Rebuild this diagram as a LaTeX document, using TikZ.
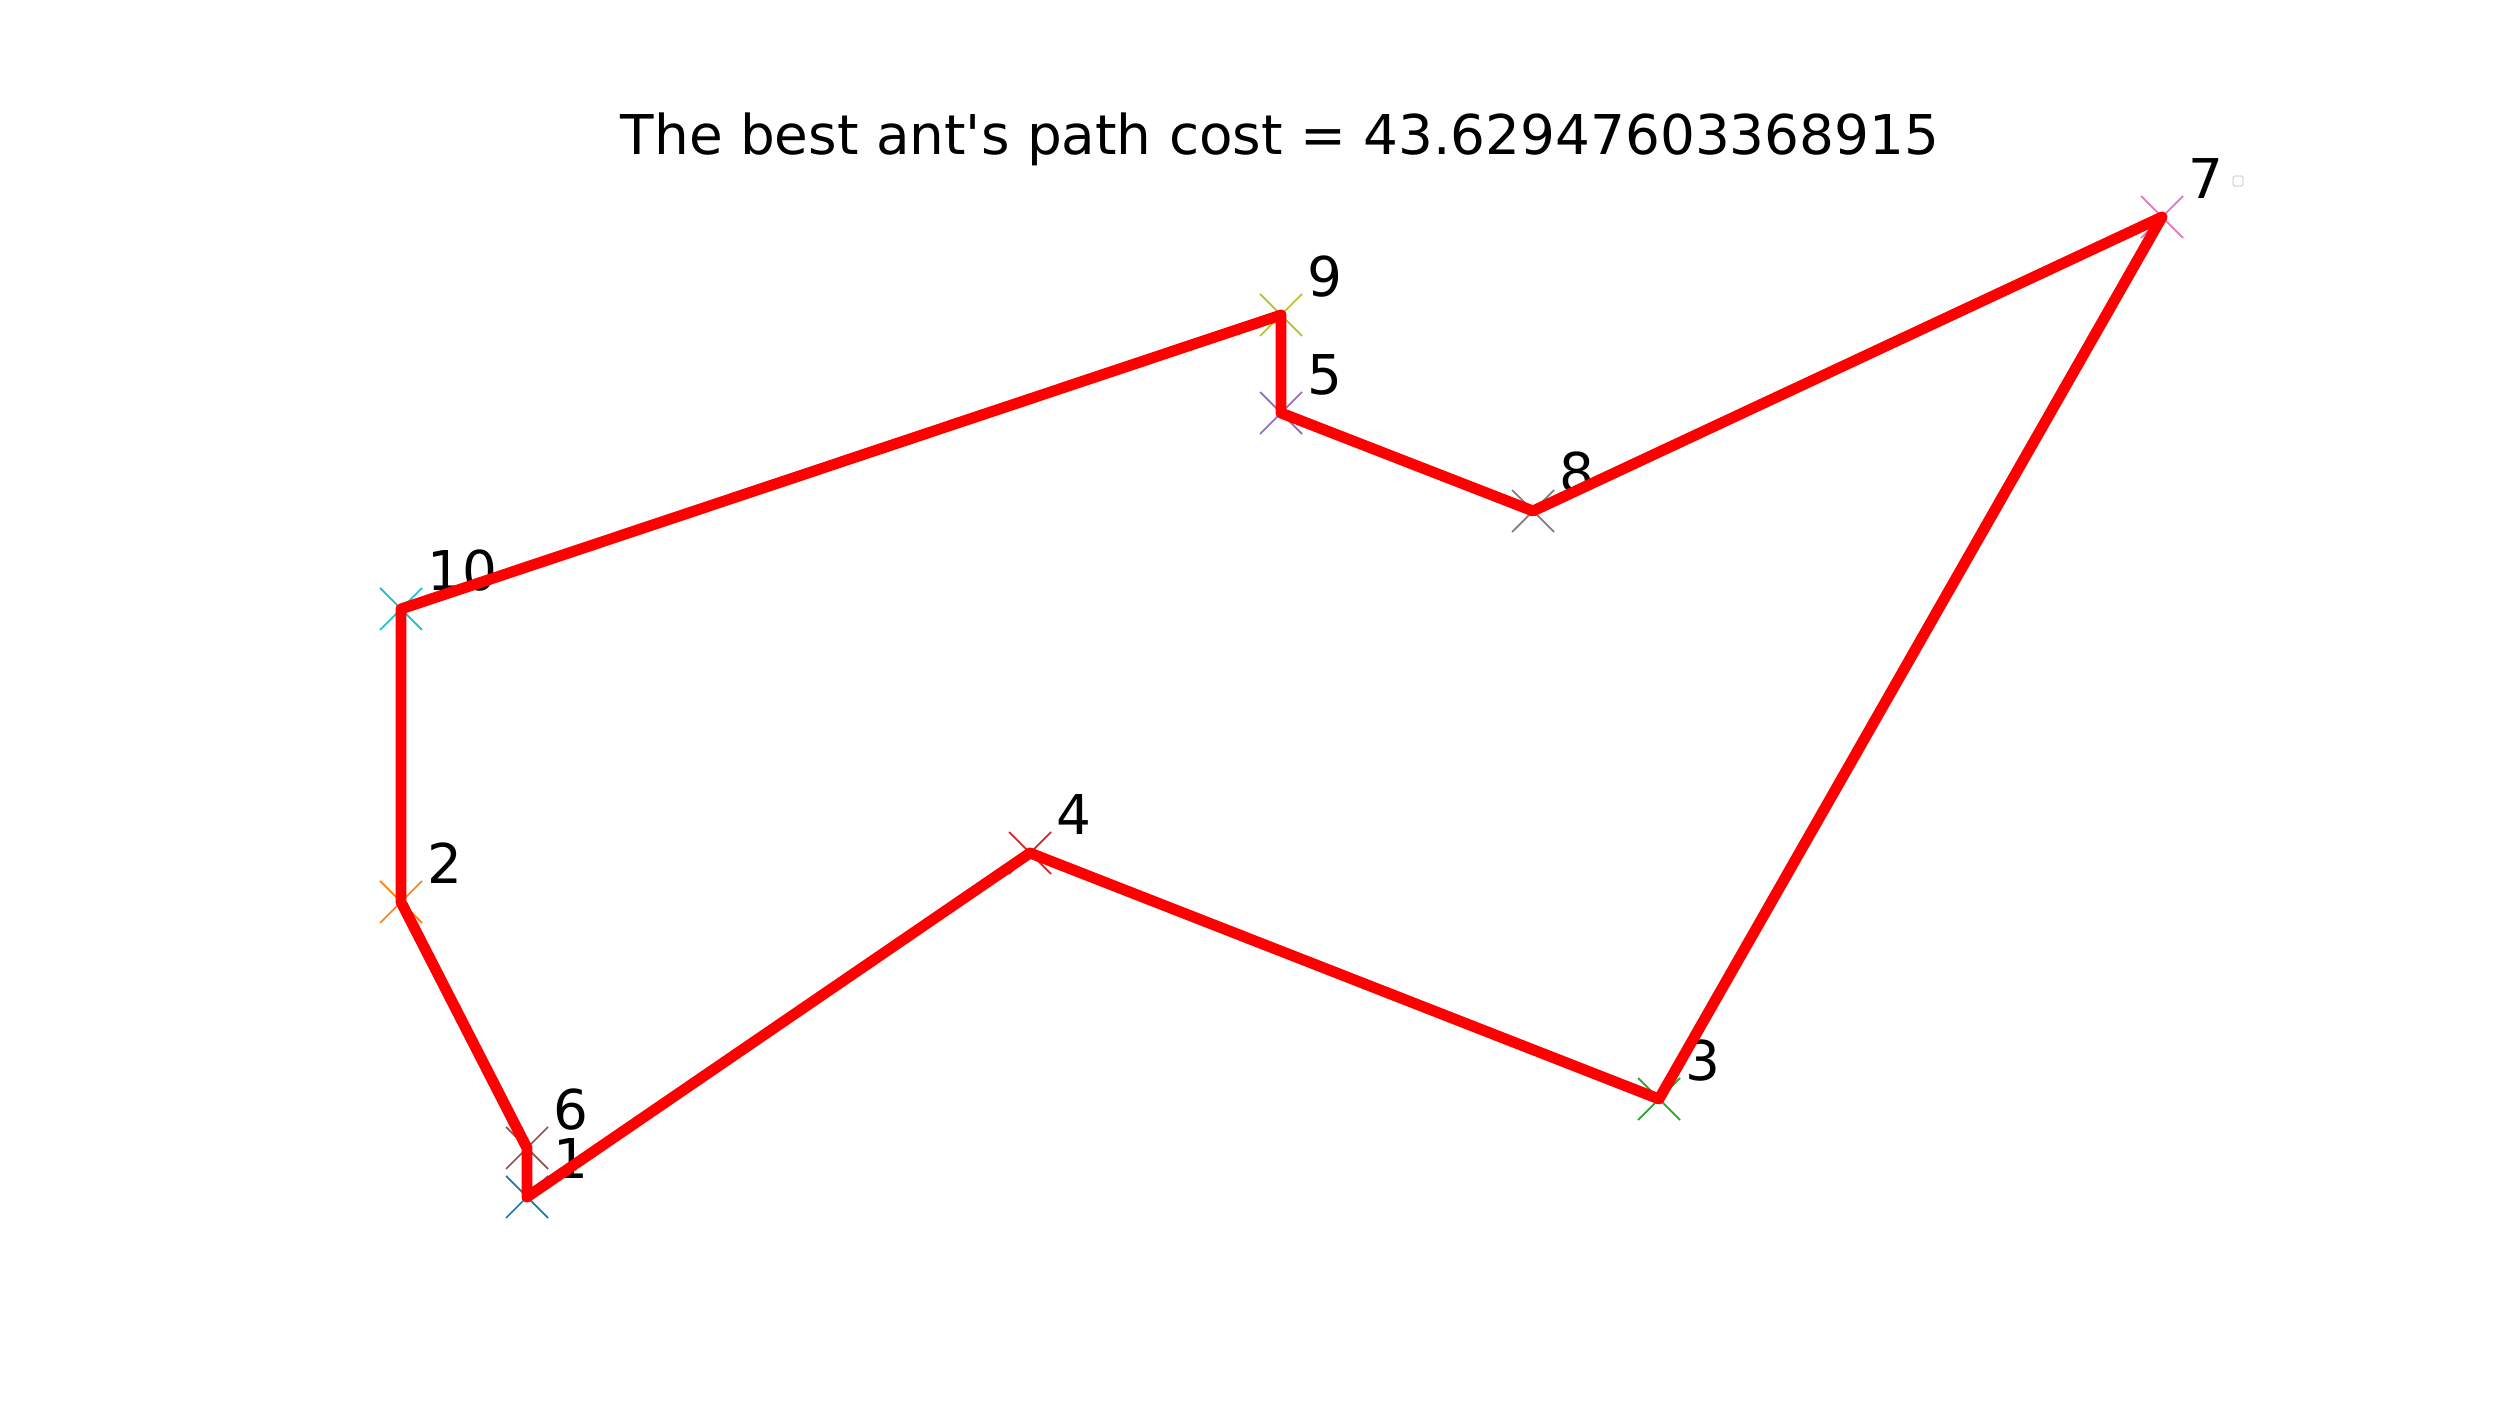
\documentclass[tikz,border=0pt]{standalone}
\usepackage{fontspec}
\setmainfont{DejaVu Sans}[Ligatures=TeXOff]
\usetikzlibrary{calc}
\definecolor{c1}{HTML}{1F77B4}
\definecolor{c2}{HTML}{FF7F0E}
\definecolor{c3}{HTML}{2CA02C}
\definecolor{c4}{HTML}{D62728}
\definecolor{c5}{HTML}{9467BD}
\definecolor{c6}{HTML}{8C564B}
\definecolor{c7}{HTML}{E377C2}
\definecolor{c8}{HTML}{7F7F7F}
\definecolor{c9}{HTML}{BCBD22}
\definecolor{c10}{HTML}{17BECF}
\definecolor{pathred}{HTML}{FF0000}
\tikzset{
  citylabel/.style={anchor=base west, inner sep=0pt, font=\fontsize{15.6}{18}\selectfont},
  tour/.style={draw=pathred, line width=3.1pt, line join=round},
  titletext/.style={anchor=base, inner sep=0pt, font=\fontsize{15.6}{18}\selectfont},
}
\newcommand{\crossmark}[2]{%
  \draw[#2, line width=0.5pt] ($(#1)+(-0.21,-0.21)$) -- ($(#1)+(0.21,0.21)$);
  \draw[#2, line width=0.5pt] ($(#1)+(-0.21,0.21)$) -- ($(#1)+(0.21,-0.21)$);
}
\begin{document}
\begin{tikzpicture}[x=1cm,y=1cm]
\useasboundingbox[fill=white] (0,0) rectangle (25,14);
\coordinate (p1) at (5.27,2.03);
\coordinate (p6) at (5.27,2.52);
\coordinate (p2) at (4.01,4.98);
\coordinate (p10) at (4.01,7.91);
\coordinate (p9) at (12.81,10.85);
\coordinate (p5) at (12.81,9.87);
\coordinate (p8) at (15.33,8.89);
\coordinate (p7) at (21.62,11.83);
\coordinate (p3) at (16.59,3.01);
\coordinate (p4) at (10.30,5.47);
\crossmark{p1}{c1}
\crossmark{p2}{c2}
\crossmark{p3}{c3}
\crossmark{p4}{c4}
\crossmark{p5}{c5}
\crossmark{p6}{c6}
\crossmark{p7}{c7}
\crossmark{p8}{c8}
\crossmark{p9}{c9}
\crossmark{p10}{c10}
\foreach \i in {1,...,10} {
  \node[citylabel] (l\i) at ($(p\i)+(0.26,0.18)$) {\i};
}
\draw[tour] (p1) -- (p6) -- (p2) -- (p10) -- (p9) -- (p5) -- (p8) -- (p7) -- (p3) -- (p4) -- cycle;
\node[titletext] (title) at (12.80,12.45) {The best ant's path cost = 43.62947603368915};
\node[draw=black!15, rounded corners=0.6pt, line width=0.4pt, minimum size=0.1cm, inner sep=0pt] (legendbox) at (22.38,12.19) {};
\end{tikzpicture}
\end{document}
